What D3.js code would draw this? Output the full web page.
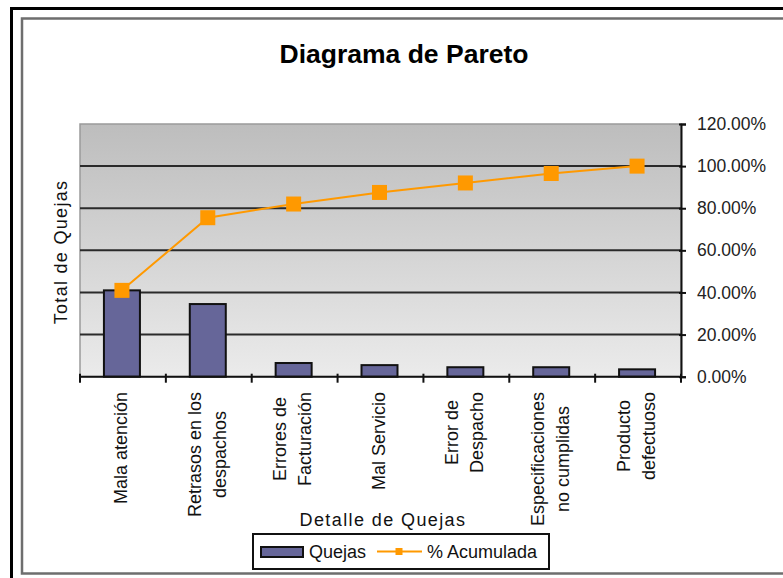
<!DOCTYPE html>
<html>
<head>
<meta charset="utf-8">
<script src="https://cdn.jsdelivr.net/npm/d3@7/dist/d3.min.js"></script>
<style>
  html, body { margin: 0; padding: 0; background: #fff; }
  svg { display: block; font-family: "Liberation Sans", Arial, sans-serif; }
</style>
</head>
<body>
<svg id="chart" width="783" height="578"></svg>
<script>
// Complaint categories (multi-line labels) and counts
const categories = [
  ["Mala atención"],
  ["Retrasos en los", "despachos"],
  ["Errores de", "Facturación"],
  ["Mal Servicio"],
  ["Error de", "Despacho"],
  ["Especificaciones", "no cumplidas"],
  ["Producto", "defectuoso"]
];
const quejas = [82, 69, 13, 11, 9, 9, 7];
const acumulada = [41.0, 75.5, 82.0, 87.5, 92.0, 96.5, 100.0];
const pctTicks = [0, 20, 40, 60, 80, 100, 120];

const svg = d3.select("#chart");
const W = 783, H = 578;

// Outer frame: black outer border and grey inner border
svg.append("rect").attr("x", 11.5).attr("y", 8.5).attr("width", W + 20).attr("height", H + 20)
  .attr("fill", "none").attr("stroke", "#000").attr("stroke-width", 3);
svg.append("rect").attr("x", 22).attr("y", 18.5).attr("width", W + 20).attr("height", 555)
  .attr("fill", "#fff").attr("stroke", "#6e6e6e").attr("stroke-width", 2.5);

const plot = { left: 80, right: 681, top: 124, bottom: 376.7 };
const ids = d3.range(categories.length);

const x = d3.scaleBand().domain(ids).range([plot.left, plot.right]).paddingInner(0).paddingOuter(0);
const yPct = d3.scaleLinear().domain([0, 120]).range([plot.bottom, plot.top]);
const yCnt = d3.scaleLinear().domain([0, 240]).range([plot.bottom, plot.top]);

// Plot area gradient background
const defs = svg.append("defs");
const grad = defs.append("linearGradient").attr("id", "bg").attr("x1", 0).attr("y1", 0).attr("x2", 0).attr("y2", 1);
grad.append("stop").attr("offset", "0%").attr("stop-color", "#bdbdbd");
grad.append("stop").attr("offset", "100%").attr("stop-color", "#ebebeb");

svg.append("rect")
  .attr("x", plot.left).attr("y", plot.top)
  .attr("width", plot.right - plot.left).attr("height", plot.bottom - plot.top)
  .attr("fill", "url(#bg)").attr("stroke", "#9a9a9a").attr("stroke-width", 1.5);

// Gridlines
svg.append("g").selectAll("line").data(pctTicks.filter(d => d > 0 && d < 120)).join("line")
  .attr("x1", plot.left).attr("x2", plot.right)
  .attr("y1", d => yPct(d)).attr("y2", d => yPct(d))
  .attr("stroke", "#2a2a2a").attr("stroke-width", 2);

// Bars
const barW = 36;
svg.append("g").selectAll("rect").data(ids).join("rect")
  .attr("x", i => x(i) + x.bandwidth() / 2 - barW / 2 - 1)
  .attr("y", i => yCnt(quejas[i]))
  .attr("width", barW)
  .attr("height", i => plot.bottom - yCnt(quejas[i]))
  .attr("fill", "#666699").attr("stroke", "#111").attr("stroke-width", 2);

// Right percentage axis
const rightAxis = d3.axisRight(yPct).tickValues(pctTicks)
  .tickFormat(d => d3.format(".2f")(d) + "%").tickSize(5).tickPadding(11);
const ra = svg.append("g").attr("transform", `translate(${plot.right},0)`).call(rightAxis);
ra.select(".domain").attr("stroke", "#111").attr("stroke-width", 2);
ra.selectAll(".tick line").attr("stroke", "#111").attr("stroke-width", 2).attr("x1", -2);
ra.selectAll(".tick text").attr("font-size", 17.5).attr("fill", "#222")
  .attr("font-family", "'Liberation Sans', Arial, sans-serif");

// Bottom category axis (ticks between categories)
const bx = svg.append("g");
bx.append("line").attr("x1", plot.left).attr("x2", plot.right)
  .attr("y1", plot.bottom).attr("y2", plot.bottom).attr("stroke", "#111").attr("stroke-width", 2);
bx.selectAll("line.t").data(d3.range(categories.length + 1)).join("line").attr("class", "t")
  .attr("x1", i => plot.left + i * x.bandwidth()).attr("x2", i => plot.left + i * x.bandwidth())
  .attr("y1", plot.bottom - 3).attr("y2", plot.bottom + 6)
  .attr("stroke", "#111").attr("stroke-width", 2);

// Rotated multi-line category labels, top-aligned under the axis, lines centred in their block
const labelTop = 392, lineGap = 25, labelSize = 18;
const lbl = svg.append("g").attr("font-size", labelSize).attr("fill", "#111");
ids.forEach(i => {
  const lines = categories[i];
  const g = lbl.append("g");
  const texts = lines.map(s => g.append("text").attr("text-anchor", "middle").attr("dy", "0.35em").text(s));
  const maxLen = d3.max(texts, t => t.node().getComputedTextLength());
  const cx = x(i) + x.bandwidth() / 2 - 2;
  const cy = labelTop + maxLen / 2;
  texts.forEach((t, k) => {
    const lx = cx + (k - (lines.length - 1) / 2) * lineGap;
    t.attr("transform", `translate(${lx},${cy}) rotate(-90)`);
  });
});

// Cumulative percentage line with square markers
const line = d3.line().x((d, i) => x(i) + x.bandwidth() / 2 - 1).y(d => yPct(d));
svg.append("path").datum(acumulada).attr("d", line)
  .attr("fill", "none").attr("stroke", "#ff9900").attr("stroke-width", 2);
const ms = 15;
svg.append("g").selectAll("rect").data(acumulada).join("rect")
  .attr("x", (d, i) => x(i) + x.bandwidth() / 2 - 1 - ms / 2)
  .attr("y", d => yPct(d) - ms / 2)
  .attr("width", ms).attr("height", ms).attr("fill", "#ff9900");

// Title
svg.append("text").attr("x", 404).attr("y", 63).attr("text-anchor", "middle")
  .attr("font-size", 26.5).attr("font-weight", "bold").attr("fill", "#000")
  .text("Diagrama de Pareto");

// Axis titles
svg.append("text").attr("transform", `translate(61,252) rotate(-90)`)
  .attr("text-anchor", "middle").attr("dy", "0.35em")
  .attr("font-size", 18).attr("letter-spacing", 1.3).attr("fill", "#111")
  .text("Total de Quejas");
svg.append("text").attr("x", 383).attr("y", 526).attr("text-anchor", "middle")
  .attr("font-size", 18).attr("letter-spacing", 1.4).attr("fill", "#111")
  .text("Detalle de Quejas");

// Legend
const lg = svg.append("g");
lg.append("rect").attr("x", 253).attr("y", 534).attr("width", 296).attr("height", 35)
  .attr("fill", "#fff").attr("stroke", "#111").attr("stroke-width", 2);
lg.append("rect").attr("x", 261).attr("y", 547).attr("width", 42).attr("height", 10)
  .attr("fill", "#666699").attr("stroke", "#111").attr("stroke-width", 2);
lg.append("text").attr("x", 309).attr("y", 558).attr("font-size", 18).attr("fill", "#111").text("Quejas");
lg.append("line").attr("x1", 377).attr("x2", 422).attr("y1", 551.5).attr("y2", 551.5)
  .attr("stroke", "#ff9900").attr("stroke-width", 2);
lg.append("rect").attr("x", 395.5).attr("y", 548).attr("width", 7).attr("height", 7).attr("fill", "#ff9900");
lg.append("text").attr("x", 427).attr("y", 558).attr("font-size", 18).attr("fill", "#111").text("% Acumulada");
</script>
</body>
</html>
